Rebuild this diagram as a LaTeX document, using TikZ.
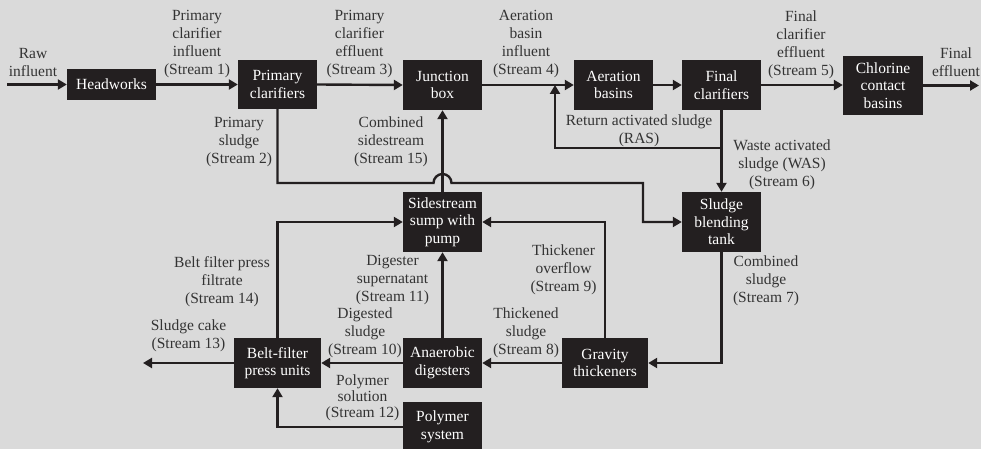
\documentclass[tikz,border=0pt]{standalone}
\usepackage{fontspec}
\setmainfont{Liberation Serif}
\usetikzlibrary{arrows.meta}
\definecolor{bg}{HTML}{DADADA}
\definecolor{ink}{HTML}{231F20}
\definecolor{labelgray}{HTML}{333333}
\begin{document}
\begin{tikzpicture}[x=1pt,y=-1pt,
  unit/.style={fill=ink,text=white,align=center,inner sep=0pt,
    font=\fontsize{15.5}{17.5}\selectfont},
  lbl/.style={text=labelgray,align=center,inner sep=0pt,
    font=\fontsize{15.5}{18}\selectfont},
  flow/.style={draw=ink,line width=2.4pt},
  arr/.style={flow,-{Triangle[length=9pt,width=10pt]}},
]
% canvas
\fill[bg] (0,0) rectangle (981,449);
\clip (0,0) rectangle (981,449);

% process units
\node[unit,minimum width=89pt,minimum height=31pt] (hw)  at (111.5,84.5) {Headworks};
\node[unit,minimum width=79pt,minimum height=49pt] (pc)  at (277.5,84.5) {Primary\\clarifiers};
\node[unit,minimum width=79pt,minimum height=50pt] (jb)  at (442.5,85)   {Junction\\box};
\node[unit,minimum width=79pt,minimum height=50pt] (ab)  at (613.5,85)   {Aeration\\basins};
\node[unit,minimum width=79pt,minimum height=50pt] (fc)  at (721.5,85)   {Final\\clarifiers};
\node[unit,minimum width=80pt,minimum height=59pt] (ccb) at (883,85.5)   {Chlorine\\contact\\basins};
\node[unit,minimum width=79pt,minimum height=60pt] (sbt) at (721.5,222)  {Sludge\\blending\\tank};
\node[unit,minimum width=79pt,minimum height=60pt] (ssp) at (442.5,222)  {Sidestream\\sump with\\pump};
\node[unit,minimum width=87pt,minimum height=50pt] (bfp) at (277.5,363)  {Belt-filter\\press units};
\node[unit,minimum width=79pt,minimum height=50pt] (ad)  at (442.5,363)  {Anaerobic\\digesters};
\node[unit,minimum width=86pt,minimum height=50pt] (gt)  at (605,363)    {Gravity\\thickeners};
\node[unit,minimum width=79pt,minimum height=50pt] (ps)  at (442.5,427)  {Polymer\\system};

% free ends and bends
\coordinate (rawin)    at (7,84.5);
\coordinate (finalout) at (979,85.5);
\coordinate (cakeout)  at (143,363);
\coordinate (rasbend)  at (555,148);
\coordinate (pshop)    at (433.5,183);
\coordinate (psbend)   at (643,183);

% main liquid train
\draw[arr] (rawin) -- (hw.west);
\draw[arr] (hw.east) -- (pc.west);
\draw[arr] (pc.east) -- (jb.west);
\draw[arr] (jb.east) -- (ab.west);
\draw[arr] (ab.east) -- (fc.west);
\draw[arr] (fc.east) -- (fc.east -| ccb.west);
\draw[arr] (ccb.east) -- (finalout);

% return and waste activated sludge
\draw[arr] (fc.south) -- (sbt.north);
\draw[arr] (fc.south |- rasbend) -- (rasbend) -- (rasbend |- jb.east);

% primary sludge, hopping over the sidestream line
\draw[arr] (pc.south) -- (pc.south |- pshop) -- (pshop)
  arc[start angle=180,end angle=360,radius=9] -- (psbend) -- (psbend |- sbt.west) -- (sbt.west);

% sidestreams
\draw[arr] (ssp.north) -- (jb.south);
\draw[arr] (bfp.north) -- (bfp.north |- ssp.west) -- (ssp.west);
\draw[arr] (gt.north) -- (gt.north |- ssp.east) -- (ssp.east);
\draw[arr] (ad.north) -- (ssp.south);

% solids train
\draw[arr] (sbt.south) -- (sbt.south |- gt.east) -- (gt.east);
\draw[arr] (gt.west) -- (ad.east);
\draw[arr] (ad.west) -- (bfp.east);
\draw[arr] (bfp.west) -- (cakeout);
\draw[arr] (ps.west) -- (ps.west -| bfp.south) -- (bfp.south);

% stream labels
\node[lbl] (lraw) at (33,62.5)    {Raw\\influent};
\node[lbl] (l1)   at (197,44.5)   {Primary\\clarifier\\influent\\(Stream 1)};
\node[lbl] (l2)   at (239,142)    {Primary\\sludge\\(Stream 2)};
\node[lbl] (l3)   at (359.5,44.5) {Primary\\clarifier\\effluent\\(Stream 3)};
\node[lbl] (l4)   at (526,44.5)   {Aeration\\basin\\influent\\(Stream 4)};
\node[lbl] (l15)  at (391,142)    {Combined\\sidestream\\(Stream 15)};
\node[lbl] (lras) at (639,131)    {Return activated sludge\\(RAS)};
\node[lbl] (l5)   at (801,44.5)   {Final\\clarifier\\effluent\\(Stream 5)};
\node[lbl] (lfin) at (956,62.5)   {Final\\effluent};
\node[lbl] (l6)   at (782,165)    {Waste activated\\sludge (WAS)\\(Stream 6)};
\node[lbl] (l7)   at (766,281)    {Combined\\sludge\\(Stream 7)};
\node[lbl] (l14)  at (222,282)    {Belt filter press\\filtrate\\(Stream 14)};
\node[lbl] (l13)  at (188.5,335.5){Sludge cake\\(Stream 13)};
\node[lbl] (l10)  at (365,333)    {Digested\\sludge\\(Stream 10)};
\node[lbl] (l11)  at (392.5,280)  {Digester\\supernatant\\(Stream 11)};
\node[lbl,font=\fontsize{15.5}{16}\selectfont] (l12) at (362.5,397.5) {Polymer\\solution\\(Stream 12)};
\node[lbl] (l8)   at (526,333)    {Thickened\\sludge\\(Stream 8)};
\node[lbl] (l9)   at (563.5,270)  {Thickener\\overflow\\(Stream 9)};
\end{tikzpicture}
\end{document}
